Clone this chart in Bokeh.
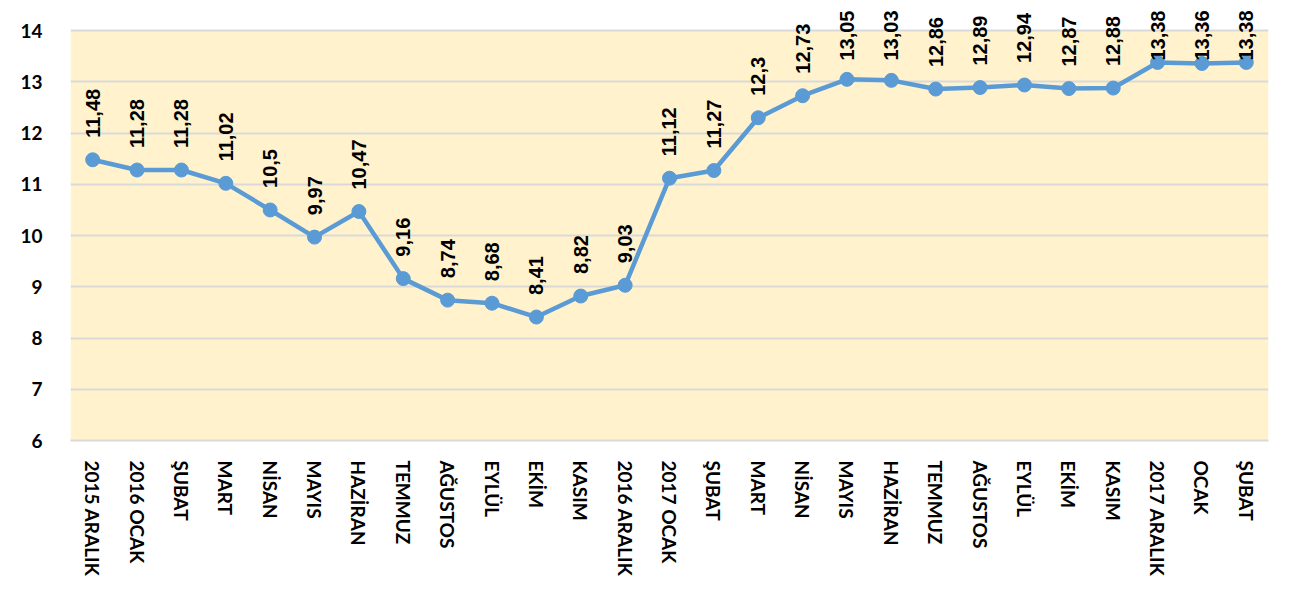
import math
from bokeh.plotting import figure
from bokeh.models import ColumnDataSource, Range1d, FixedTicker, LabelSet, BoxAnnotation
from bokeh.core.properties import value
from bokeh.embed import file_html
from bokeh.resources import INLINE

categories = ["2015 ARALIK", "2016 OCAK", "ŞUBAT", "MART", "NİSAN", "MAYIS", "HAZİRAN",
              "TEMMUZ", "AĞUSTOS", "EYLÜL", "EKİM", "KASIM", "2016 ARALIK", "2017 OCAK",
              "ŞUBAT", "MART", "NİSAN", "MAYIS", "HAZİRAN", "TEMMUZ", "AĞUSTOS", "EYLÜL",
              "EKİM", "KASIM", "2017 ARALIK", "OCAK", "ŞUBAT"]
values = [11.48, 11.28, 11.28, 11.02, 10.5, 9.97, 10.47, 9.16, 8.74, 8.68, 8.41, 8.82, 9.03,
          11.12, 11.27, 12.3, 12.73, 13.05, 13.03, 12.86, 12.89, 12.94, 12.87, 12.88,
          13.38, 13.36, 13.38]
y_ticks = [6, 7, 8, 9, 10, 11, 12, 13, 14]

W, H = 1274, 580
B_LEFT, B_RIGHT, B_TOP, B_BOTTOM = 70, 6, 2, 140
Y_END = y_ticks[-1] + 0.55
LABEL_FS = 20
BASE_OFF = 22
TOP_LIMIT = 10

xs = list(range(len(categories)))
labels = [f"{v:g}".replace(".", ",") for v in values]

# push labels that would leave the chart area down (like the original does)
ppu = (H - B_TOP - B_BOTTOM) / (Y_END - y_ticks[0])
offsets = []
for v, lab in zip(values, labels):
    py = B_TOP + (Y_END - v) * ppu
    length = sum(0.556 * LABEL_FS if ch.isdigit() else 0.278 * LABEL_FS for ch in lab)
    offsets.append(max(0.0, min(BASE_OFF, py - length - TOP_LIMIT)))

src = ColumnDataSource(dict(x=xs, y=values, label=labels, off=offsets))

p = figure(width=W, height=H, output_backend="svg", toolbar_location=None,
           x_range=Range1d(-0.5, len(categories) - 0.5),
           y_range=Range1d(y_ticks[0], Y_END),
           min_border_left=B_LEFT, min_border_right=B_RIGHT,
           min_border_top=B_TOP, min_border_bottom=B_BOTTOM)
p.background_fill_color = "white"
p.border_fill_color = "white"
p.outline_line_color = None

p.add_layout(BoxAnnotation(bottom=y_ticks[0], top=y_ticks[-1], fill_color="#FFF2CC",
                           fill_alpha=1, line_color=None, level="image"))

p.xaxis.ticker = FixedTicker(ticks=xs)
p.xaxis.major_label_overrides = {i: c for i, c in enumerate(categories)}
p.xaxis.major_label_orientation = "vertical"
p.yaxis.ticker = FixedTicker(ticks=y_ticks)

for ax in (p.xaxis, p.yaxis):
    ax.major_tick_line_color = None
    ax.minor_tick_line_color = None
    ax.major_label_text_font = "Lato"
    ax.major_label_text_font_style = "bold"
    ax.major_label_text_font_size = "19px"
    ax.major_label_text_color = "black"
p.xaxis.axis_line_color = "#D9D9D9"
p.xaxis.axis_line_width = 2
p.xaxis.major_label_standoff = 14
p.yaxis.axis_line_color = None
p.yaxis.major_label_standoff = 22

p.xgrid.grid_line_color = None
p.ygrid.grid_line_color = "#D9D9D9"
p.ygrid.grid_line_width = 2

p.line("x", "y", source=src, line_color="#5B9BD5", line_width=4.5)
p.scatter("x", "y", source=src, size=14, fill_color="#5B9BD5", line_color="#5B9BD5")
p.add_layout(LabelSet(x="x", y="y", text="label", source=src, angle=math.pi / 2,
                      text_align="left", text_baseline="middle", y_offset="off",
                      text_font=value("Liberation Sans"), text_font_style="bold",
                      text_font_size=f"{LABEL_FS}px", text_color="black"))

open("out.html", "w").write(file_html(p, INLINE))
